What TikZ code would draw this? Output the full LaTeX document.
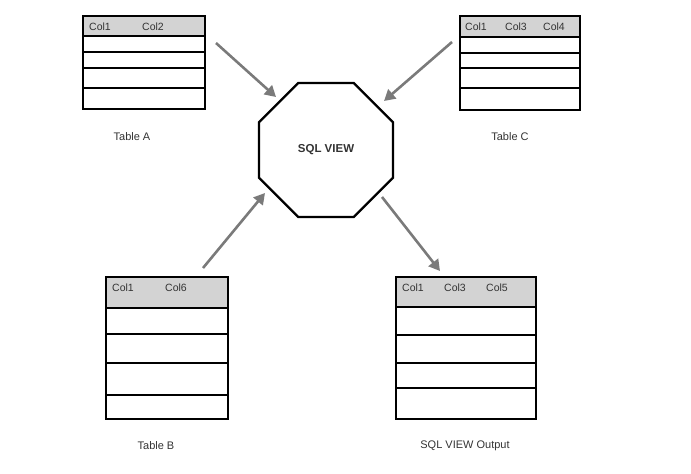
\documentclass[tikz,border=0pt]{standalone}
\usepackage{fontspec}
\setmainfont{Liberation Sans}
\usetikzlibrary{positioning,shapes.geometric,arrows.meta}
\definecolor{hdrgray}{HTML}{D3D3D3}
\definecolor{arrowgray}{HTML}{7A7A7A}
\definecolor{textgray}{HTML}{333333}

\begin{document}
\begin{tikzpicture}[x=1pt, y=-1pt,
	hdr/.style={draw, fill=hdrgray, line width=1.4pt, outer sep=0pt, inner sep=0pt},
	row/.style={draw, fill=white, line width=1.4pt, outer sep=0pt, inner sep=0pt},
	colname/.style={anchor=west, inner sep=0pt, text=textgray, font=\fontsize{10.5}{12}\selectfont},
	caption/.style={text=textgray, font=\fontsize{11}{13}\selectfont},
	flow/.style={draw=arrowgray, line width=2.6pt, -{Triangle[length=11pt,width=12pt]}}]

	\useasboundingbox (0,0) rectangle (691,474);

	% Table A
	\node[hdr, anchor=north west, minimum width=122pt, minimum height=20pt] (A0) at (83,16) {};
	\node[row, minimum width=122pt, minimum height=16pt, below=0pt of A0] (A1) {};
	\node[row, minimum width=122pt, minimum height=16pt, below=0pt of A1] (A2) {};
	\node[row, minimum width=122pt, minimum height=20pt, below=0pt of A2] (A3) {};
	\node[row, minimum width=122pt, minimum height=21pt, below=0pt of A3] (A4) {};
	\node[colname] (A0c1) at (89,27) {Col1};
	\node[colname] (A0c2) at (142,27) {Col2};
	\node[caption] (Acap) at (132,137) {Table A};

	% Table C
	\node[hdr, anchor=north west, minimum width=120pt, minimum height=21pt] (C0) at (460,16) {};
	\node[row, minimum width=120pt, minimum height=16pt, below=0pt of C0] (C1) {};
	\node[row, minimum width=120pt, minimum height=15pt, below=0pt of C1] (C2) {};
	\node[row, minimum width=120pt, minimum height=20pt, below=0pt of C2] (C3) {};
	\node[row, minimum width=120pt, minimum height=22pt, below=0pt of C3] (C4) {};
	\node[colname] (C0c1) at (465,27) {Col1};
	\node[colname] (C0c3) at (505,27) {Col3};
	\node[colname] (C0c4) at (543,27) {Col4};
	\node[caption] (Ccap) at (510,137) {Table C};

	% Table B
	\node[hdr, anchor=north west, minimum width=122pt, minimum height=31pt] (B0) at (106,277) {};
	\node[row, minimum width=122pt, minimum height=26pt, below=0pt of B0] (B1) {};
	\node[row, minimum width=122pt, minimum height=29pt, below=0pt of B1] (B2) {};
	\node[row, minimum width=122pt, minimum height=32pt, below=0pt of B2] (B3) {};
	\node[row, minimum width=122pt, minimum height=24pt, below=0pt of B3] (B4) {};
	\node[colname] (B0c1) at (112,288) {Col1};
	\node[colname] (B0c6) at (165,288) {Col6};
	\node[caption] (Bcap) at (156,446) {Table B};

	% output of the view
	\node[hdr, anchor=north west, minimum width=140pt, minimum height=30pt] (O0) at (396,277) {};
	\node[row, minimum width=140pt, minimum height=28pt, below=0pt of O0] (O1) {};
	\node[row, minimum width=140pt, minimum height=28pt, below=0pt of O1] (O2) {};
	\node[row, minimum width=140pt, minimum height=25pt, below=0pt of O2] (O3) {};
	\node[row, minimum width=140pt, minimum height=31pt, below=0pt of O3] (O4) {};
	\node[colname] (O0c1) at (402,288) {Col1};
	\node[colname] (O0c3) at (444,288) {Col3};
	\node[colname] (O0c5) at (486,288) {Col5};
	\node[caption] (Ocap) at (465,446) {SQL VIEW Output};

	% the view
	\node[regular polygon, regular polygon sides=8, draw, line width=2.4pt,
		minimum size=145pt, inner sep=0pt, text=textgray,
		font=\fontsize{11.5}{13}\selectfont\bfseries] (sql) at (326,150) {SQL VIEW};

	% arrow ends
	\coordinate (fromA) at (216,43);
	\coordinate (toA) at (276,97);
	\coordinate (fromC) at (452,42);
	\coordinate (toC) at (384,101);
	\coordinate (fromB) at (203,268);
	\coordinate (toB) at (265,193);
	\coordinate (fromV) at (382,197);
	\coordinate (toO) at (440,271);

	\draw[flow] (fromA) -- (toA);
	\draw[flow] (fromC) -- (toC);
	\draw[flow] (fromB) -- (toB);
	\draw[flow] (fromV) -- (toO);

\end{tikzpicture}
\end{document}
